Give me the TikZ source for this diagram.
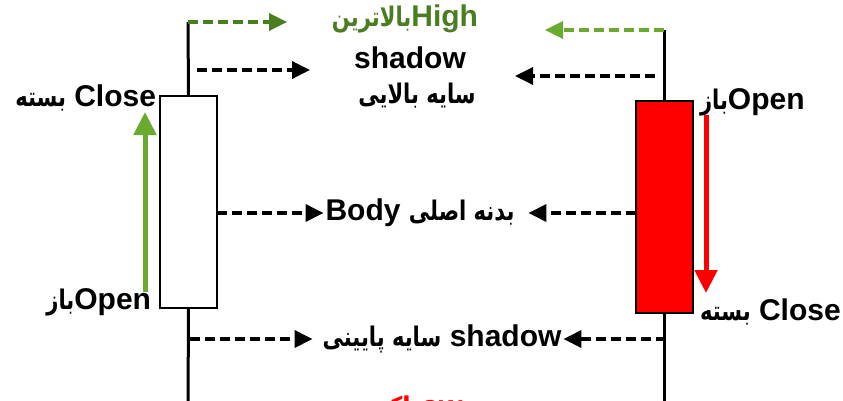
\documentclass[tikz,border=0pt]{standalone}
\usepackage{fontspec}
\setmainfont{Liberation Sans}
\newfontfamily\farsi[Script=Arabic,FakeStretch=0.78]{DejaVu Sans}
\TeXXeTstate=1
\usetikzlibrary{arrows.meta,positioning}

\definecolor{darkgreen}{HTML}{4A7D20}
\definecolor{lightgreen}{HTML}{6AAA2E}
\newcommand{\fa}[1]{{\farsi\fontsize{27}{29}\selectfont\beginR #1\endR}}

\begin{document}
\begin{tikzpicture}[x=1pt,y=-1pt,>={Triangle[length=18pt,width=17pt]},
    font=\bfseries\fontsize{30}{32}\selectfont]
       \tikzstyle{every node}=[inner sep=0pt,outer sep=0pt]
       \tikzstyle{candle}=[draw,line width=2pt,minimum width=57pt,minimum height=212pt]
       \tikzstyle{wick}=[line width=3pt]
       \tikzstyle{dashedarrow}=[line width=3.5pt,dash pattern=on 10pt off 5pt]
       \tikzstyle{move}=[line width=5pt,>={Triangle[length=23pt,width=22pt]}]

       \useasboundingbox (0,0) rectangle (843,400);
       \clip (0,0) rectangle (843,400);

       % candles
       \node[candle,fill=white] (lbody) at (188.5,202) {};
       \node[candle,fill=red]   (rbody) at (664,207) {};
       \coordinate (lhi) at (188,22);
       \coordinate (llo) at (188,405);
       \coordinate (rhi) at (664,30);
       \coordinate (rlo) at (664,405);
       \draw[wick] (lbody.north) -- (lhi) (lbody.south) -- (llo);
       \draw[wick] (rbody.north) -- (rhi) (rbody.south) -- (rlo);

       % labels
       \node[text=darkgreen] (high) at (405,19) {\fa{بالاترین}High};
       \node (upshadow) at (410,58) {shadow};
       \node (upfa) at (417,96) {\fa{سایه بالایی}};
       \node (body) at (420,213) {Body \fa{بدنه اصلی}};
       \node (lowshadow) at (442,339) {\fa{سایه پایینی} shadow};
       \node[text=red] (low) at (395,409) {\fa{کمترین}Low};
       \node[anchor=east] (lclose) at (156,98) {\fa{بسته} Close};
       \node[anchor=east] (lopen) at (151,302) {\fa{باز}Open};
       \node[anchor=west] (ropen) at (700,102) {\fa{باز}Open};
       \node[anchor=west] (rclose) at (700,312) {\fa{بسته} Close};

       % free ends of the arrows
       \coordinate (lhiend) at (287,22);
       \coordinate (rhiend) at (545,30);
       \coordinate (lupa) at (197,70);
       \coordinate (lupb) at (310,70);
       \coordinate (rupa) at (655,76);
       \coordinate (rupb) at (515,76);
       \coordinate (lloa) at (190,339);
       \coordinate (rloa) at (666,339);
       \coordinate (gstart) at (145,292);
       \coordinate (gend) at (145,112);
       \coordinate (rstart) at (706,115);
       \coordinate (rend) at (706,293);

       \path[->]
       (lhi)  edge [dashedarrow,darkgreen] (lhiend)
       (rhi)  edge [dashedarrow,lightgreen] (rhiend)
       (lupa) edge [dashedarrow] (lupb)
       (rupa) edge [dashedarrow] (rupb)
       (lbody.east |- body.west) edge [dashedarrow,shorten >=2pt] (body.west)
       (rbody.west |- body.east) edge [dashedarrow,shorten >=14pt] (body.east)
       (lloa) edge [dashedarrow,shorten >=10pt] (lowshadow.west)
       (rloa) edge [dashedarrow,shorten >=2pt] (lowshadow.east)
       (gstart) edge [move,lightgreen] (gend)
       (rstart) edge [move,red] (rend);
\end{tikzpicture}
\end{document}
